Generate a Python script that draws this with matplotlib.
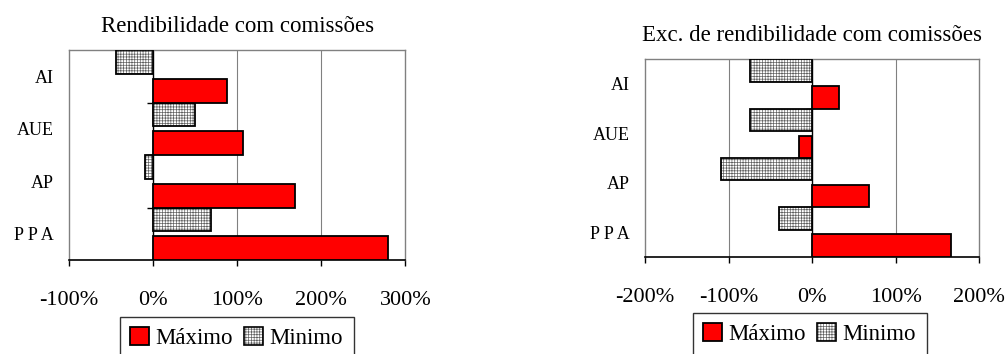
import numpy as np
import matplotlib.pyplot as plt
from matplotlib.patches import Patch
from matplotlib.legend_handler import HandlerTuple

# dados (em %)
categorias = ['AI', 'AUE', 'AP', 'P P A']
rend_maximo = [88, 107, 169, 279]
rend_minimo = [-44, 50, -10, 69]
exc_maximo = [32, -16, 68, 166]
exc_minimo = [-74, -74, -109, -40]

ticks_rend = [-100, 0, 100, 200, 300]
ticks_exc = [-200, -100, 0, 100, 200]

plt.rcParams['font.family'] = ['Liberation Serif', 'DejaVu Serif']
plt.rcParams['hatch.linewidth'] = 0.5

HATCH = '++++++'
HATCH_COR = '#606060'
fig = plt.figure(figsize=(10.07, 3.54), dpi=100)


def barras(rect, titulo, maximo, minimo, ticks, title_pad, leg_pos):
    ax = fig.add_axes(rect)
    y = np.arange(len(categorias))
    # minimo: padrão quadriculado cinzento com contorno preto
    ax.barh(y - 0.275, minimo, height=0.45, color='white', edgecolor=HATCH_COR,
            hatch=HATCH, linewidth=0, zorder=3)
    ax.barh(y - 0.275, minimo, height=0.45, fill=False, edgecolor='black',
            linewidth=1.3, zorder=3)
    ax.barh(y + 0.275, maximo, height=0.45, color='red', edgecolor='black',
            linewidth=1.3, zorder=3)

    ax.set_xlim(ticks[0], ticks[-1])
    ax.set_ylim(len(categorias) - 0.5, -0.5)

    # linhas de grelha e eixo vertical no zero
    for t in ticks[1:-1]:
        if t == 0:
            ax.axvline(0, color='black', lw=1, zorder=2)
        else:
            ax.axvline(t, color='#808080', lw=0.8, zorder=1)
    ax.hlines(y[:-1] + 0.5, -7, 0, color='black', lw=1, zorder=2)

    ax.set_xticks(ticks)
    ax.set_xticklabels([f'{t}%' for t in ticks], fontsize=16)
    ax.set_yticks(y)
    ax.set_yticklabels(categorias, fontsize=13)
    ax.tick_params(axis='x', direction='out', length=4.5, width=1, pad=18)
    ax.tick_params(axis='y', length=0, pad=11)

    for s in ('left', 'top', 'right'):
        ax.spines[s].set_color('#808080')
        ax.spines[s].set_linewidth(1)
    ax.spines['bottom'].set_linewidth(1.2)

    ax.set_title(titulo, fontsize=16.5, pad=title_pad)

    h_max = Patch(facecolor='red', edgecolor='black', lw=1.3)
    h_min = (Patch(facecolor='white', edgecolor=HATCH_COR, hatch=HATCH, lw=0),
             Patch(fill=False, edgecolor='black', lw=1.2))
    leg = ax.legend([h_max, h_min], ['Máximo', 'Minimo'], loc='upper left',
                    bbox_to_anchor=leg_pos, bbox_transform=fig.transFigure,
                    handler_map={tuple: HandlerTuple(ndivide=1)},
                    ncol=2, fontsize=16.5, frameon=True, fancybox=False,
                    borderaxespad=0, handlelength=0.8, handleheight=0.8,
                    handletextpad=0.3, columnspacing=0.5, borderpad=0.45)
    leg.get_frame().set_edgecolor('black')
    leg.get_frame().set_linewidth(1)
    return ax


barras([0.0685, 0.2655, 0.334, 0.593], 'Rendibilidade com comissões',
       rend_maximo, rend_minimo, ticks_rend, 13, (120 / 1007, 1 - 317 / 354))
barras([0.6405, 0.2749, 0.332, 0.5576], 'Exc. de rendibilidade com comissões',
       exc_maximo, exc_minimo, ticks_exc, 13, (693 / 1007, 1 - 313 / 354))

fig.savefig('out.png', dpi=100)
